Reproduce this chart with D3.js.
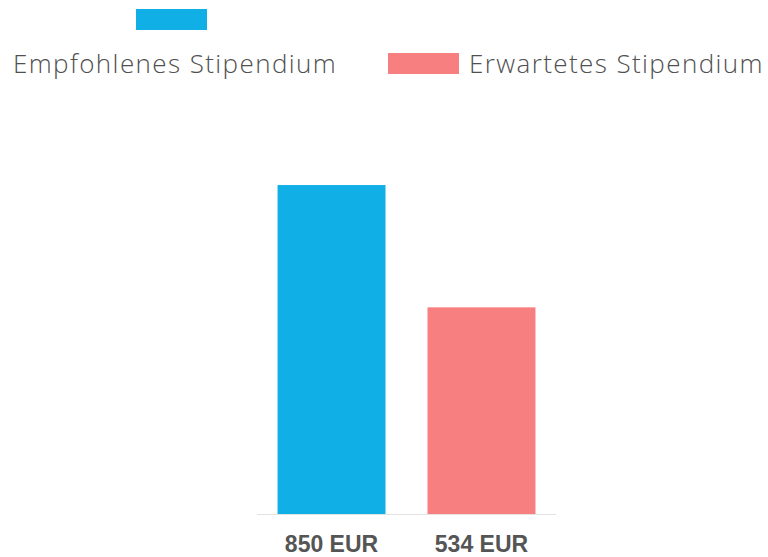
<!DOCTYPE html>
<html>
<head>
<meta charset="utf-8">
<script src="https://cdn.jsdelivr.net/npm/d3@7"></script>
<style>
  body { margin: 0; background: #fff; }
  .legend text { font-family: "Open Sans", Lato, sans-serif; font-weight: 300; fill: #505050; letter-spacing: 1.4px; }
  .label { font-family: "Liberation Sans", Arial, sans-serif; font-weight: bold; fill: #555; }
</style>
</head>
<body>
<script>
// chart data
var series = ["Empfohlenes Stipendium", "Erwartetes Stipendium"];
var values = [850, 534];
var tickLabels = ["850 EUR", "534 EUR"];
var colors = ["#10b0e6", "#f77f7f"];

var width = 768, height = 557;

var svg = d3.select("body").append("svg")
    .attr("width", width)
    .attr("height", height);

// scales
var x = d3.scaleBand()
    .domain(series)
    .range([257, 556])
    .paddingInner(0.28)
    .paddingOuter(0.137);

var y = d3.scaleLinear()
    .domain([0, 1000])
    .range([514, 127]);

// legend (first item wraps: swatch above text)
var legend = svg.append("g").attr("class", "legend");

legend.append("rect")
    .attr("x", 136).attr("y", 9)
    .attr("width", 71).attr("height", 21)
    .attr("fill", colors[0]);
legend.append("text")
    .attr("x", 13).attr("y", 73)
    .style("font-size", "26px")
    .text(series[0]);

legend.append("rect")
    .attr("x", 388).attr("y", 53)
    .attr("width", 71).attr("height", 21)
    .attr("fill", colors[1]);
legend.append("text")
    .attr("x", 469).attr("y", 73)
    .style("font-size", "26px")
    .text(series[1]);

// bars
svg.selectAll(".bar")
    .data(series)
    .enter().append("rect")
    .attr("class", "bar")
    .attr("x", function(d) { return x(d); })
    .attr("width", x.bandwidth())
    .attr("y", function(d, i) { return y(values[i]); })
    .attr("height", function(d, i) { return y(0) - y(values[i]); })
    .attr("fill", function(d, i) { return colors[i]; });

// baseline
svg.append("line")
    .attr("x1", 257).attr("x2", 556)
    .attr("y1", y(0) + 0.5).attr("y2", y(0) + 0.5)
    .attr("stroke", "#e3e3e3");

// category labels
svg.selectAll(".label")
    .data(series)
    .enter().append("text")
    .attr("class", "label")
    .attr("x", function(d) { return x(d) + x.bandwidth() / 2; })
    .attr("y", 552)
    .attr("text-anchor", "middle")
    .style("font-size", "23px")
    .text(function(d, i) { return tickLabels[i]; });
</script>
</body>
</html>
